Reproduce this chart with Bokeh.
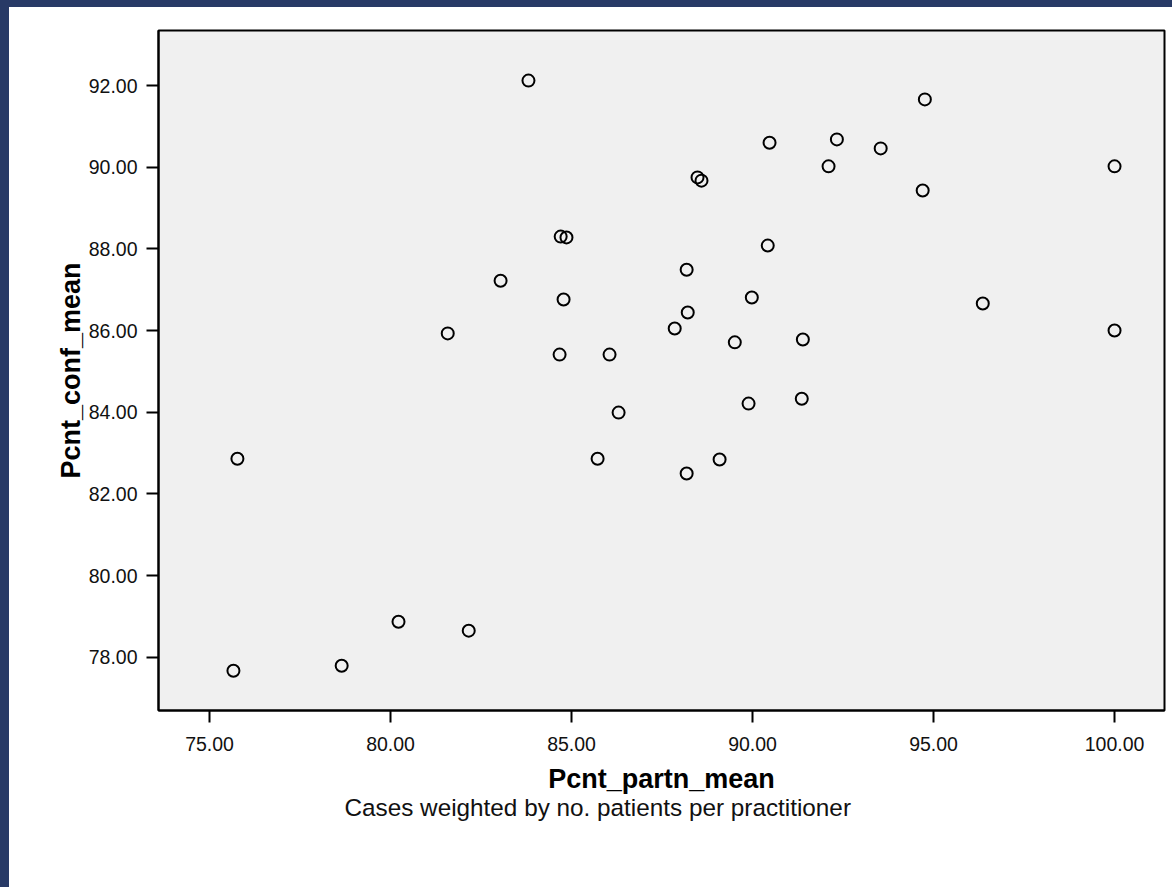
from bokeh.plotting import figure
from bokeh.models import Range1d, FixedTicker, NumeralTickFormatter, Title
from bokeh.embed import file_html
from bokeh.resources import INLINE

# Data
pcnt_partn_mean = [83.81, 90.47, 92.33, 92.10, 88.48, 88.59, 84.70, 84.86, 90.42, 83.04,
                   88.18, 84.78, 89.98, 88.21, 87.85, 84.67, 86.05, 89.51, 91.39, 94.76,
                   93.54, 100.00, 94.70, 96.36, 100.00, 86.30, 85.72, 89.89, 91.36, 88.18,
                   89.09, 75.77, 75.66, 78.65, 80.22, 82.16, 81.58]
pcnt_conf_mean = [92.12, 90.60, 90.68, 90.02, 89.75, 89.67, 88.30, 88.28, 88.08, 87.22,
                  87.49, 86.76, 86.81, 86.44, 86.05, 85.41, 85.41, 85.71, 85.78, 91.66,
                  90.46, 90.02, 89.43, 86.66, 86.00, 83.99, 82.86, 84.21, 84.33, 82.50,
                  82.84, 82.86, 77.67, 77.79, 78.87, 78.65, 85.93]

x_ticks = [75, 80, 85, 90, 95, 100]
y_ticks = [78, 80, 82, 84, 86, 88, 90, 92]

x_label = "Pcnt_partn_mean"
y_label = "Pcnt_conf_mean"
footer = "Cases weighted by no. patients per practitioner"

FONT = "Liberation Sans"
BORDER_BLUE = "#283A66"

p = figure(width=1172, height=887, output_backend="svg", toolbar_location=None,
           x_range=Range1d(73.59, 101.38), y_range=Range1d(76.695, 93.347),
           min_border_left=149, min_border_right=17, min_border_top=23,
           min_border_bottom=184)

# dark blue page edge at left and top
p.styles = {"border-left": f"9px solid {BORDER_BLUE}",
            "border-top": f"7px solid {BORDER_BLUE}"}

p.background_fill_color = "#F0F0F0"
p.border_fill_color = "white"
p.outline_line_color = "black"
p.outline_line_width = 2
p.xgrid.visible = False
p.ygrid.visible = False

p.scatter(pcnt_partn_mean, pcnt_conf_mean, marker="circle", size=12,
          fill_color=None, line_color="black", line_width=2)

for ax, ticks in ((p.xaxis[0], x_ticks), (p.yaxis[0], y_ticks)):
    ax.ticker = FixedTicker(ticks=ticks)
    ax.formatter = NumeralTickFormatter(format="0.00")
    ax.major_tick_out = 12
    ax.major_tick_in = 0
    ax.major_tick_line_width = 2
    ax.major_tick_line_color = "black"
    ax.minor_tick_line_color = None
    ax.axis_line_width = 2
    ax.axis_line_color = "black"
    ax.major_label_text_font = FONT
    ax.major_label_text_font_size = "19.5px"
    ax.major_label_text_color = "#111111"
    ax.axis_label_text_font = FONT
    ax.axis_label_text_font_size = "27px"
    ax.axis_label_text_font_style = "bold"
    ax.axis_label_text_color = "black"

p.xaxis[0].axis_label = x_label
p.yaxis[0].axis_label = y_label
p.xaxis[0].major_label_standoff = 14
p.xaxis[0].axis_label_standoff = 10
p.yaxis[0].major_label_standoff = 9
p.yaxis[0].axis_label_standoff = 0

p.add_layout(Title(text=footer, align="left", offset=186, standoff=-9,
                   text_font=FONT, text_font_size="24.3px",
                   text_font_style="normal", text_color="#111111"), "below")

open("out.html", "w").write(file_html(p, INLINE))
